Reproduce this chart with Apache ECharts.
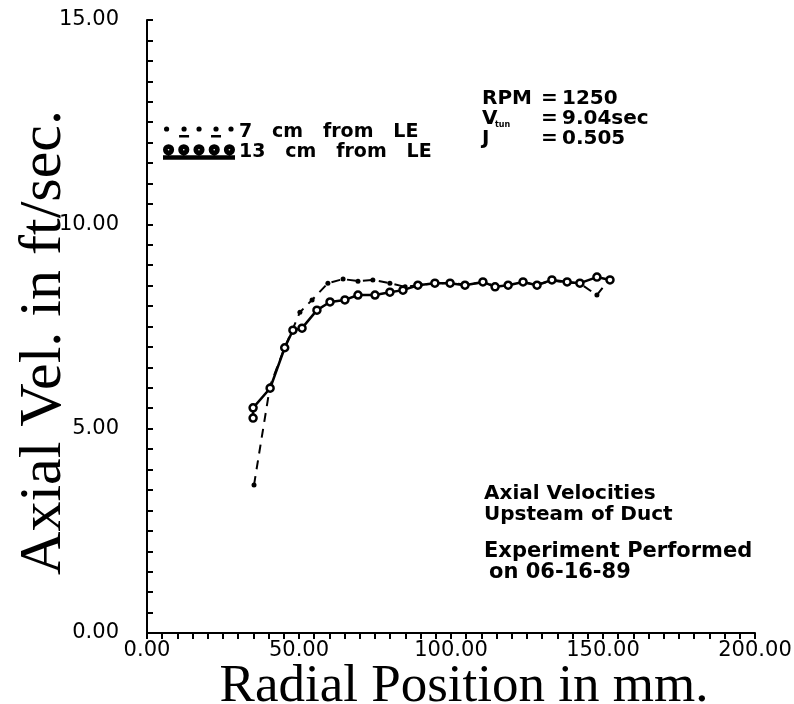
<!DOCTYPE html>
<html>
<head>
<meta charset="utf-8">
<script src="https://cdn.jsdelivr.net/npm/echarts@6/dist/echarts.min.js"></script>
<style>
html,body{margin:0;padding:0;background:#fff;}
#chart{width:794px;height:704px;}
</style>
</head>
<body>
<div id="chart"></div>
<script>
// ---- data ----
const seriesNames = ['7 cm from LE', '13 cm from LE'];

// 7 cm from LE (dashed line, small dots)
const x7 = [35.2, 40.5, 45.1, 50.3, 54.3, 59.5, 64.5, 69.4, 74.3, 79.9, 84.9, 89.9, 94.7, 99.7, 104.6, 110.5, 114.5, 118.8, 123.7, 128.3, 133.2, 138.2, 142.4, 148.0, 152.3];
const y7 = [3.62, 6.05, 6.95, 7.85, 8.15, 8.56, 8.66, 8.61, 8.64, 8.56, 8.47, 8.52, 8.55, 8.57, 8.53, 8.57, 8.50, 8.52, 8.57, 8.53, 8.62, 8.58, 8.55, 8.27, 8.68];

// 13 cm from LE (solid line, circles)
const x13 = [34.9, 34.9, 40.5, 45.3, 48.0, 51.0, 55.9, 60.2, 65.1, 69.4, 75.0, 79.9, 84.2, 89.1, 94.7, 99.7, 104.6, 110.5, 114.5, 118.8, 123.7, 128.3, 133.2, 138.2, 142.4, 148.0, 152.3];
const y13 = [5.26, 5.51, 5.99, 6.98, 7.41, 7.46, 7.90, 8.10, 8.15, 8.27, 8.27, 8.34, 8.39, 8.51, 8.56, 8.56, 8.51, 8.59, 8.47, 8.51, 8.59, 8.51, 8.64, 8.59, 8.56, 8.71, 8.64];

// axis ranges: ticks every tickStep, labels every labelStep
const xAxisSpec = { min: 0, max: 200, tickStep: 5, labelStep: 50 };
const yAxisSpec = { min: 0, max: 15, tickStep: 0.5, labelStep: 5 };

const runInfo = [['RPM', '=', '1250'], ['V', '=', '9.04sec'], ['J', '=', '0.505']];
const noteLines = ['Axial Velocities', 'Upsteam of Duct'];
const noteLines2 = ['Experiment Performed', 'on 06-16-89'];

const zip = (xs, ys) => xs.map((x, i) => [x, ys[i]]);

// legend icons (drawn in a 70x14 box)
function ring(cx, cy, r, ri) {
  return `M${cx - r} ${cy} a${r} ${r} 0 1 1 ${2 * r} 0 a${r} ${r} 0 1 1 ${-2 * r} 0 Z ` +
         `M${cx - ri} ${cy} a${ri} ${ri} 0 1 0 ${2 * ri} 0 a${ri} ${ri} 0 1 0 ${-2 * ri} 0 Z `;
}
function dot(cx, cy, r) {
  return `M${cx - r} ${cy} a${r} ${r} 0 1 1 ${2 * r} 0 a${r} ${r} 0 1 1 ${-2 * r} 0 Z `;
}
let icon13 = '';
[4.5, 19.5, 34.5, 49.5, 64.5].forEach(c => { icon13 += ring(c, 5, 4.5, 1.8); });
icon13 += 'M0 11.5 L69 11.5 L69 14 L0 14 Z';
let icon7 = '';
[2.5, 20, 35, 52, 67].forEach(c => { icon7 += dot(c, 4, 2.6); });
icon7 += 'M15 10 L25 10 L25 12.5 L15 12.5 Z M47 10 L57 10 L57 12.5 L47 12.5 Z M0 13.5 L0.01 13.5 L0.01 14 L0 14 Z M69.99 0 L70 0 L70 0.01 L69.99 0.01 Z';

const legendLabels = { '7 cm from LE': '7   cm   from   LE', '13 cm from LE': '13   cm   from   LE' };

const annFont = { fontFamily: 'DejaVu Sans', fontWeight: 'bold', fill: '#000' };
const graphics = [];
const rowTop = [89, 109, 129];
runInfo.forEach((row, i) => {
  graphics.push({ type: 'text', left: 482, top: rowTop[i], style: Object.assign({ text: row[0], fontSize: 20 }, annFont) });
  graphics.push({ type: 'text', left: 541, top: rowTop[i], style: Object.assign({ text: row[1], fontSize: 20 }, annFont) });
  graphics.push({ type: 'text', left: 562, top: rowTop[i], style: Object.assign({ text: row[2], fontSize: 20 }, annFont) });
});
graphics.push({ type: 'text', left: 495, top: 121, style: Object.assign({ text: 'tun', fontSize: 8 }, annFont) });
noteLines.forEach((t, i) => {
  graphics.push({ type: 'text', left: 484, top: 484 + i * 21, style: Object.assign({ text: t, fontSize: 20 }, annFont) });
});
noteLines2.forEach((t, i) => {
  graphics.push({ type: 'text', left: 484 + i * 5, top: 541 + i * 21, style: Object.assign({ text: t, fontSize: 21 }, annFont) });
});

const chart = echarts.init(document.getElementById('chart'), null, { renderer: 'canvas' });
const tickLabel = { fontFamily: 'DejaVu Sans', fontSize: 21, color: '#000' };
function labelFmt(step) {
  return v => (Math.abs(v / step - Math.round(v / step)) < 1e-6 ? v.toFixed(2) : '');
}
chart.setOption({
  backgroundColor: '#fff',
  animation: false,
  grid: { left: 147, right: 39, top: 20, bottom: 71, outerBoundsMode: 'none', containLabel: false },
  legend: {
    orient: 'vertical', left: 158, top: 117, itemWidth: 70, itemHeight: 14, itemGap: 0,
    data: [
      { name: seriesNames[0], icon: 'path://' + icon7, itemStyle: { color: '#000' } },
      { name: seriesNames[1], icon: 'path://' + icon13, itemStyle: { color: '#000' } }
    ],
    formatter: n => legendLabels[n],
    textStyle: { fontFamily: 'DejaVu Sans', fontWeight: 'bold', fontSize: 19, color: '#000', lineHeight: 20 },
    selectedMode: false
  },
  xAxis: {
    type: 'value', min: xAxisSpec.min, max: xAxisSpec.max, interval: xAxisSpec.tickStep,
    name: 'Radial Position in mm.', nameLocation: 'middle', nameGap: 28, nameMoveOverlap: false,
    nameTextStyle: { fontFamily: 'Liberation Serif', fontSize: 53, color: '#000', padding: [0, 0, 0, 26] },
    axisLine: { lineStyle: { color: '#000', width: 2 } },
    axisTick: { show: true, inside: false, length: 6, lineStyle: { color: '#000', width: 2 } },
    axisLabel: Object.assign({ margin: 7, interval: 0, showMinLabel: true, showMaxLabel: true, hideOverlap: false, formatter: labelFmt(xAxisSpec.labelStep) }, tickLabel),
    splitLine: { show: false }
  },
  yAxis: {
    type: 'value', min: yAxisSpec.min, max: yAxisSpec.max, interval: yAxisSpec.tickStep,
    name: 'Axial Vel. in ft/sec.', nameLocation: 'middle', nameGap: 73, nameMoveOverlap: false,
    nameTextStyle: { fontFamily: 'Liberation Serif', fontSize: 60, color: '#000', padding: [0, 32, 0, 0] },
    axisLine: { lineStyle: { color: '#000', width: 2 } },
    axisTick: { show: true, inside: true, length: 6, lineStyle: { color: '#000', width: 2 } },
    axisLabel: Object.assign({ margin: 28, interval: 0, showMinLabel: true, showMaxLabel: true, hideOverlap: false, formatter: labelFmt(yAxisSpec.labelStep) }, tickLabel),
    splitLine: { show: false }
  },
  graphic: graphics,
  series: [
    {
      name: seriesNames[0], type: 'line', data: zip(x7, y7), z: 2,
      symbol: 'circle', symbolSize: 5, showAllSymbol: true,
      itemStyle: { color: '#000' },
      lineStyle: { color: '#000', width: 2, type: [9, 7] }
    },
    {
      name: seriesNames[1], type: 'line', data: zip(x13, y13), z: 3,
      symbol: 'circle', symbolSize: 7, showAllSymbol: true,
      itemStyle: { color: '#fff', borderColor: '#000', borderWidth: 2.5 },
      lineStyle: { color: '#000', width: 2.5 }
    }
  ]
});
</script>
</body>
</html>
